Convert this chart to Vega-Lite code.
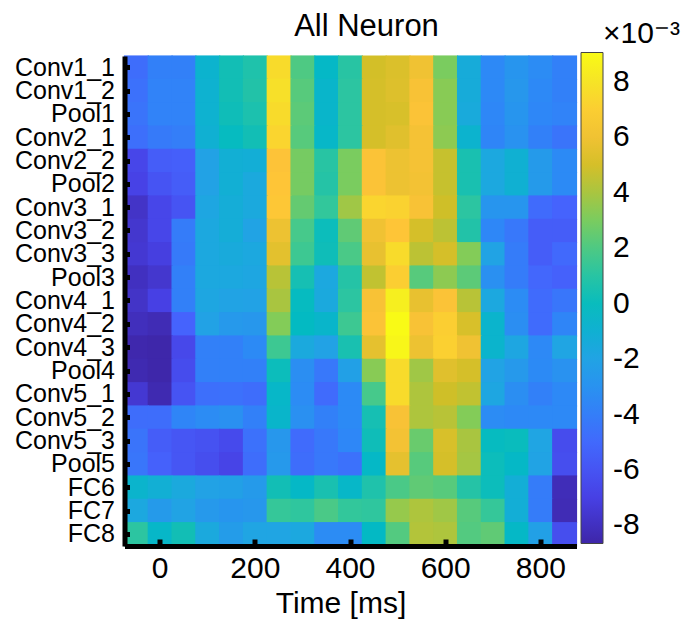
{
  "$schema": "https://vega.github.io/schema/vega-lite/v6.json",
  "width": 452,
  "height": 490,
  "autosize": {"type": "none"},
  "padding": {"left": 124.5, "top": 56, "right": 106.5, "bottom": 76},
  "background": "white",
  "config": {
    "view": {"stroke": null},
    "font": "Liberation Sans",
    "axis": {"labelColor": "black", "titleColor": "black", "domainColor": "black", "tickColor": "black", "grid": false, "labelFont": "Liberation Sans", "titleFont": "Liberation Sans"}
  },
  "title": {"text": "All Neuron", "fontSize": 31, "font": "Liberation Sans", "fontWeight": "normal", "color": "black", "dx": 16, "offset": -24},
  "data": {"values": [
    {"layer": "Conv1_1", "t": [-50,0,50,100,150,200,250,300,350,400,450,500,550,600,650,700,750,800,850], "v": [-4.8,-3.9,-3.9,-0.8,0.3,0.7,7.6,2.0,-0.4,1.0,4.9,5.2,6.0,3.0,-1.4,-3.5,-2.8,-3.3,-3.9]},
    {"layer": "Conv1_2", "t": [-50,0,50,100,150,200,250,300,350,400,450,500,550,600,650,700,750,800,850], "v": [-4.6,-3.8,-3.8,-0.9,0.3,0.8,7.8,2.2,-0.6,1.1,5.0,5.3,6.3,3.3,-1.4,-3.5,-2.7,-3.5,-3.9]},
    {"layer": "Pool1", "t": [-50,0,50,100,150,200,250,300,350,400,450,500,550,600,650,700,750,800,850], "v": [-4.5,-3.8,-3.8,-0.9,0.2,0.6,7.6,2.3,-0.6,1.1,5.0,5.1,6.4,3.3,-1.5,-3.6,-2.8,-3.6,-3.8]},
    {"layer": "Conv2_1", "t": [-50,0,50,100,150,200,250,300,350,400,450,500,550,600,650,700,750,800,850], "v": [-4.7,-4.2,-4.0,-1.0,-0.1,0.3,7.3,2.2,-0.5,1.1,5.0,5.4,6.2,3.4,-0.8,-3.7,-3.0,-3.9,-4.5]},
    {"layer": "Conv2_2", "t": [-50,0,50,100,150,200,250,300,350,400,450,500,550,600,650,700,750,800,850], "v": [-6.7,-5.6,-5.5,-2.1,-1.1,-1.2,6.5,2.9,1.0,3.0,6.4,5.9,6.2,4.6,0.5,-1.7,-1.0,-2.5,-3.4]},
    {"layer": "Pool2", "t": [-50,0,50,100,150,200,250,300,350,400,450,500,550,600,650,700,750,800,850], "v": [-6.9,-6.0,-5.6,-2.1,-1.1,-1.6,6.6,2.9,0.9,3.0,6.4,5.9,6.1,4.6,0.5,-1.7,-1.0,-2.5,-3.4]},
    {"layer": "Conv3_1", "t": [-50,0,50,100,150,200,250,300,350,400,450,500,550,600,650,700,750,800,850], "v": [-7.8,-6.7,-6.0,-1.8,-1.3,-1.6,6.7,2.5,1.3,3.8,7.3,7.2,6.3,4.8,1.1,-2.8,-2.8,-4.9,-5.3]},
    {"layer": "Conv3_2", "t": [-50,0,50,100,150,200,250,300,350,400,450,500,550,600,650,700,750,800,850], "v": [-7.6,-6.7,-4.1,-1.7,-1.3,-2.0,5.9,1.8,0.1,2.4,6.0,6.6,5.0,4.4,0.8,-3.6,-4.3,-5.6,-5.6]},
    {"layer": "Conv3_3", "t": [-50,0,50,100,150,200,250,300,350,400,450,500,550,600,650,700,750,800,850], "v": [-7.5,-7.1,-4.2,-1.7,-1.5,-1.7,5.5,1.6,0.2,1.9,5.7,7.6,4.4,5.0,3.2,-2.0,-4.1,-5.6,-5.0]},
    {"layer": "Pool3", "t": [-50,0,50,100,150,200,250,300,350,400,450,500,550,600,650,700,750,800,850], "v": [-8.0,-7.6,-3.9,-1.7,-1.7,-1.8,4.3,0.4,-1.7,0.9,4.5,7.0,2.2,3.4,2.3,-3.1,-4.1,-5.1,-5.4]},
    {"layer": "Conv4_1", "t": [-50,0,50,100,150,200,250,300,350,400,450,500,550,600,650,700,750,800,850], "v": [-7.8,-7.0,-3.9,-1.8,-2.0,-2.1,4.0,-0.1,-1.6,1.1,6.3,8.5,5.7,6.4,4.3,-1.7,-3.3,-4.9,-4.4]},
    {"layer": "Conv4_2", "t": [-50,0,50,100,150,200,250,300,350,400,450,500,550,600,650,700,750,800,850], "v": [-8.1,-8.3,-5.3,-2.1,-2.6,-2.7,3.2,-0.2,-0.6,1.6,6.4,9.0,6.3,7.0,5.1,-0.7,-3.2,-4.9,-3.7]},
    {"layer": "Conv4_3", "t": [-50,0,50,100,150,200,250,300,350,400,450,500,550,600,650,700,750,800,850], "v": [-8.5,-8.6,-6.6,-3.9,-3.9,-3.4,1.6,-1.6,-2.1,0.5,5.6,8.8,5.9,7.1,6.0,-0.7,-1.8,-3.5,-1.9]},
    {"layer": "Pool4", "t": [-50,0,50,100,150,200,250,300,350,400,450,500,550,600,650,700,750,800,850], "v": [-8.4,-8.6,-6.4,-3.9,-3.9,-3.9,0.1,-3.2,-4.3,-2.2,3.3,7.6,3.8,5.4,5.0,-2.0,-2.6,-3.4,-3.0]},
    {"layer": "Conv5_1", "t": [-50,0,50,100,150,200,250,300,350,400,450,500,550,600,650,700,750,800,850], "v": [-7.5,-8.4,-6.0,-4.7,-4.6,-4.8,-0.5,-3.3,-4.9,-3.4,1.8,7.6,4.1,4.8,4.5,-1.8,-3.2,-3.9,-3.5]},
    {"layer": "Conv5_2", "t": [-50,0,50,100,150,200,250,300,350,400,450,500,550,600,650,700,750,800,850], "v": [-4.8,-4.8,-3.7,-3.3,-3.1,-3.9,-0.6,-3.1,-3.9,-3.4,0.4,6.3,4.1,4.3,3.2,-3.3,-3.5,-3.5,-3.5]},
    {"layer": "Conv5_3", "t": [-50,0,50,100,150,200,250,300,350,400,450,500,550,600,650,700,750,800,850], "v": [-4.5,-5.6,-5.9,-6.1,-6.5,-4.6,-2.7,-4.9,-4.3,-3.6,0.2,6.1,2.6,5.1,4.0,-0.1,0.0,-1.9,-6.4]},
    {"layer": "Pool5", "t": [-50,0,50,100,150,200,250,300,350,400,450,500,550,600,650,700,750,800,850], "v": [-4.4,-5.4,-5.9,-6.3,-6.8,-4.8,-2.6,-4.8,-4.3,-4.6,-0.4,5.6,2.2,5.0,3.9,0.1,-0.4,-2.0,-6.3]},
    {"layer": "FC6", "t": [-50,0,50,100,150,200,250,300,350,400,450,500,550,600,650,700,750,800,850], "v": [-0.7,-1.1,-1.6,-2.1,-2.2,-2.5,0.3,-0.4,0.5,-0.5,0.7,1.9,2.4,2.2,0.9,0.1,-1.2,-4.1,-8.2]},
    {"layer": "FC7", "t": [-50,0,50,100,150,200,250,300,350,400,450,500,550,600,650,700,750,800,850], "v": [-1.7,-2.5,-2.0,-2.6,-2.8,-2.7,1.4,1.2,1.9,1.3,1.2,3.6,4.1,3.8,2.2,1.4,-1.2,-4.1,-8.3]},
    {"layer": "FC8", "t": [-50,0,50,100,150,200,250,300,350,400,450,500,550,600,650,700,750,800,850], "v": [1.1,-0.5,0.3,-1.6,-2.4,-1.9,-1.9,-1.7,-3.3,-3.3,-0.3,2.1,4.2,4.1,2.1,2.4,-0.4,-2.2,-6.3]}
  ]},
  "transform": [{"flatten": ["t", "v"]}],
  "mark": {"type": "rect", "width": {"band": 1.05}, "height": {"band": 1.05}},
  "encoding": {
    "x": {
      "field": "t", "type": "ordinal",
      "scale": {"paddingInner": 0, "paddingOuter": 0},
      "axis": {"values": [0, 200, 400, 600, 800], "labelAngle": 0, "labelFontSize": 30, "labelPadding": 14, "tickSize": -7, "tickWidth": 5, "domainWidth": 5, "title": "Time [ms]", "titleFontSize": 30, "titleFontWeight": "normal", "titleBaseline": "alphabetic", "titleX": 216, "titleY": 66, "zindex": 1}
    },
    "y": {
      "field": "layer", "type": "ordinal", "sort": null,
      "scale": {"paddingInner": 0, "paddingOuter": 0},
      "axis": {"title": null, "labelFontSize": 25, "labelPadding": 15, "tickSize": -5, "tickWidth": 5, "domainWidth": 5, "labelLimit": 300, "zindex": 1}
    },
    "color": {
      "field": "v", "type": "quantitative",
      "scale": {
        "domain": [-8.65, -6.965, -5.278, -3.593, -1.907, -0.221, 1.465, 3.15, 4.836, 6.521, 8.207, 9.05],
        "range": ["#3e26a8", "#4741e5", "#4563fd", "#2e87f7", "#20a5e3", "#02bac3", "#37c897", "#81cc59", "#d1bf27", "#fec338", "#f5e924", "#f9fb15"],
        "interpolate": "rgb"
      },
      "legend": {
        "type": "gradient",
        "orient": "none", "legendX": 456.5, "legendY": -37.5, "direction": "vertical",
        "gradientLength": 491, "gradientThickness": 22, "gradientStrokeColor": "#444444", "gradientStrokeWidth": 1,
        "values": [-8, -6, -4, -2, 0, 2, 4, 6, 8],
        "labelExpr": "'' + datum.value",
        "labelFontSize": 30, "labelOffset": 10, "labelColor": "black", "labelOverlap": false, "labelFont": "Liberation Sans",
        "title": "\u2800×10⁻³", "titleFontSize": 30, "titleFontWeight": "normal", "titleColor": "black", "titlePadding": 4, "titleLimit": 300, "titleFont": "Liberation Sans",
        "padding": 0
      }
    }
  }
}
